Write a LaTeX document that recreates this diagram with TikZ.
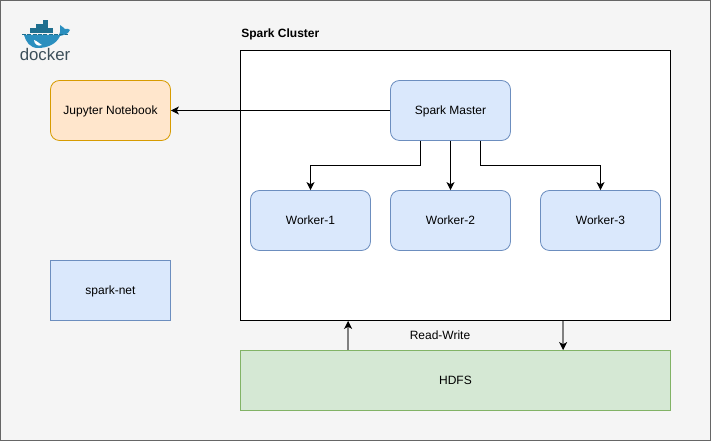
\documentclass[tikz,border=0pt]{standalone}
\usepackage{fontspec}
\setmainfont{Liberation Sans}
\usetikzlibrary{arrows.meta}
\definecolor{pagegray}{HTML}{F5F5F5}
\definecolor{pageline}{HTML}{666666}
\definecolor{boxblue}{HTML}{DAE8FC}
\definecolor{lineblue}{HTML}{6C8EBF}
\definecolor{boxorange}{HTML}{FFE6CC}
\definecolor{lineorange}{HTML}{D79B00}
\definecolor{boxgreen}{HTML}{D5E8D4}
\definecolor{linegreen}{HTML}{82B366}
\definecolor{whaleblue}{HTML}{2A8FBF}
\definecolor{crateblue}{HTML}{1F6F8F}
\definecolor{dockertext}{HTML}{3C4F5A}
\tikzset{
  sharpbox/.style={draw,minimum width=90pt,minimum height=45pt,inner sep=0pt,line width=0.6pt,text height=6.5pt,text depth=0pt},
  softbox/.style={sharpbox,rounded corners=6.75pt},
  bluebox/.style={softbox,fill=boxblue,draw=lineblue},
  link/.style={line width=0.75pt,-{Stealth[length=6pt,width=6pt,inset=1.6pt]}},
  graylink/.style={link,draw=black!50,line width=1.1pt,-{Stealth[length=6pt,width=6pt,inset=1.6pt,color=black]}}
}
\begin{document}
\begin{tikzpicture}[x=0.75pt,y=-0.75pt,font=\fontsize{9}{11}\selectfont]
  \useasboundingbox (0,0) rectangle (711,441);
  \draw[fill=pagegray,draw=pageline,line width=1pt] (0.5,0.5) rectangle (710.5,440.5);
  % docker logo
  \fill[crateblue] (30,28) rectangle (53,33);
  \fill[crateblue] (36,24) rectangle (48,28);
  \fill[crateblue] (43,20) rectangle (48,24);
  \fill[whaleblue] (24,35) -- (59,35) .. controls (61,31) and (60,28) .. (60,25)
    .. controls (63,26) and (64,29) .. (65,29) .. controls (67,28) and (69,29) .. (70,30)
    .. controls (68,35) and (63,35) .. (60,36) .. controls (56,45) and (46,48) .. (38,48)
    .. controls (30,48) and (26,42) .. (24,35) -- cycle;
  \fill[white] (34,40) .. controls (37,41) and (40,44) .. (42,45) .. controls (38,47) and (34,44) .. (34,40) -- cycle;
  \draw[crateblue,line width=0.6pt,dash pattern=on 3pt off 1pt] (22,34.5) -- (68,34.5);
  \node[anchor=center,inner sep=0pt,text=dockertext] (dockerlabel) at (45,55) {\fontsize{12.6}{14}\selectfont docker};
  % boxes
  \node[sharpbox,draw=black,fill=white,minimum width=322.5pt,minimum height=202.5pt] (cluster) at (455.5,185.5) {};
  \node[anchor=west,inner sep=0pt] (clusterlabel) at (241,34) {\textbf{Spark Cluster}};
  \node[softbox,fill=boxorange,draw=lineorange] (jupyter) at (110.5,110.5) {Jupyter Notebook};
  \node[bluebox] (master) at (450.5,110.5) {Spark Master};
  \node[bluebox] (workera) at (310.5,220.5) {Worker-1};
  \node[bluebox] (workerb) at (450.5,220.5) {Worker-2};
  \node[bluebox] (workerc) at (600.5,220.5) {Worker-3};
  \node[sharpbox,fill=boxblue,draw=lineblue] (sparknet) at (110.5,290.5) {spark-net};
  \node[sharpbox,fill=boxgreen,draw=linegreen,minimum width=322.5pt] (hdfs) at (455.5,380.5) {HDFS};
  \node[inner sep=0pt] (rwlabel) at (440,335) {Read-Write};
  % connectors
  \draw[link] (master) -- (jupyter);
  \draw[link] (master) -- (workerb);
  \draw[link] ([xshift=-22.5pt]master.south) -- ++(0,25) -| (workera.north);
  \draw[link] ([xshift=22.5pt]master.south) -- ++(0,25) -| (workerc.north);
  \draw[graylink] ([xshift=81pt]hdfs.north west) -- ([xshift=81pt]cluster.south west);
  \draw[graylink] ([xshift=242.25pt]cluster.south west) -- ([xshift=242.25pt]hdfs.north west);
\end{tikzpicture}
\end{document}
